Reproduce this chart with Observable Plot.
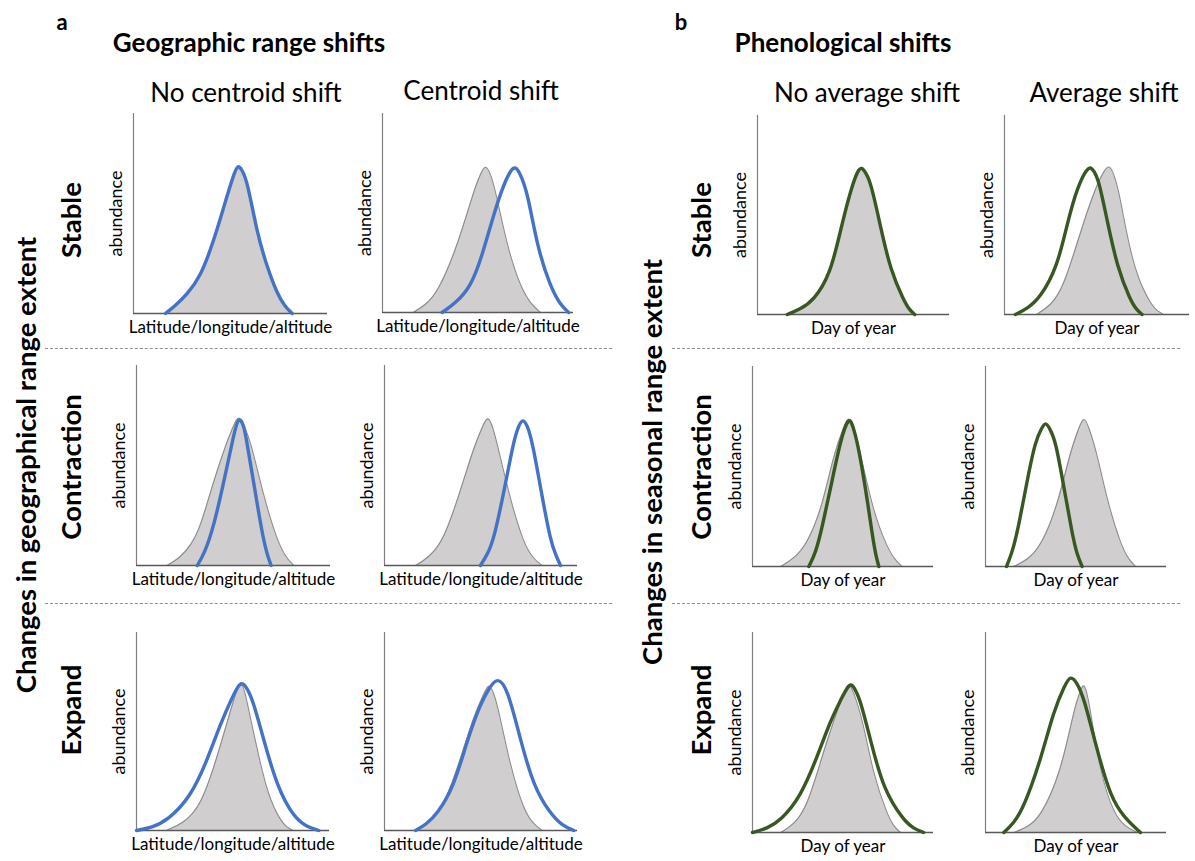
<!DOCTYPE html>
<html><head><meta charset="utf-8">
<script src="https://cdn.jsdelivr.net/npm/d3@7"></script>
<script src="https://cdn.jsdelivr.net/npm/@observablehq/plot@0.6"></script>
<style>
body{margin:0;background:#fff;}
#fig{position:relative;width:1195px;height:861px;font-family:Lato,"Open Sans",sans-serif;color:#000;overflow:hidden;background:#fff}
.t{position:absolute;white-space:nowrap;transform:translate(-50%,-50%);line-height:1}
.r{transform:translate(-50%,-50%) rotate(-90deg);}
.b{font-weight:700}
.dash{position:absolute;height:0;border-top:1.2px dashed #8f8f8f}
</style></head><body><div id="fig"></div>
<script>
// ---- text ----
const panelLetters = ["a", "b"];
const sectionTitles = ["Geographic range shifts", "Phenological shifts"];
const columnTitles = ["No centroid shift", "Centroid shift", "No average shift", "Average shift"];
const rowLabels = ["Stable", "Contraction", "Expand"];
const sideTitles = ["Changes in geographical range extent", "Changes in seasonal range extent"];
const xLabels = ["Latitude/longitude/altitude", "Day of year"];
const yLabel = "abundance";

// ---- curves (x: position along gradient 0-100, y: abundance 0-100) ----
// Geographic, no centroid shift
const aNoStableGrayX = [16.5,21.6,27.7,34.5,41.4,46.5,51.7,53.8,55.8,58.6,63.8,68.9,74.1,78,81.8];
const aNoStableGrayY = [0,4,9.8,18.2,36.5,53.2,69.8,74.5,72,66.5,39.8,23.2,9.8,3.5,0];
const aNoStableNewX  = [16.5,21.6,27.7,34.5,41.4,46.5,51.7,53.8,55.8,58.6,63.8,68.9,74.1,78,81.8];
const aNoStableNewY  = [0,4,9.8,18.2,36.5,53.2,69.8,74.5,72,66.5,39.8,23.2,9.8,3.5,0];
const aNoContrGrayX = [15.8,22,28,33,39.8,46.8,50.5,52.7,55,58.8,65.6,72.5,77,81.1];
const aNoContrGrayY = [0,3.5,10,19.2,42.5,62.5,71,75,71,62.5,34.2,12.5,4,0];
const aNoContrNewX  = [31.3,35,39.8,45.9,50.2,52.7,55.2,56.2,60.5,64.8,67.3,69.4];
const aNoContrNewY  = [0,6,19.2,45.8,65.8,75,70,65.8,40.8,15.8,5.5,0];
const aNoExpGrayX = [15.5,24,33.2,41.8,48.7,52,53.9,56,58.2,63.4,68.5,74.6,78,81.2];
const aNoExpGrayY = [0,3.5,11.8,37,60.6,71,75.5,71,60.6,37,16.8,5,1.5,0];
const aNoExpNewX  = [0,8,15.9,28,36.6,43.5,49.6,53.9,56.5,59.9,66,72.9,81.5,88,94.5];
const aNoExpNewY  = [0,1.5,5,16.8,35.4,53.9,67.3,75.5,73,67.3,45.5,21.9,6.7,2,0];
// Geographic, centroid shift
const aShStableGrayX = [16.1,22,28.6,39.1,47.8,51.5,53.9,56.5,59.2,65.3,72.3,77.5,82.7];
const aShStableGrayY = [0,3.5,9.4,32.8,61.3,70,74.5,70,61.3,32.8,12.7,4.5,0];
const aShStableNewX  = [31.2,38,46.1,52,58.3,63.5,68.7,71.5,75.8,81,88,93,97.5];
const aShStableNewY  = [0,4.5,12.7,28,49.6,64.7,74.5,71,61.3,32.8,12.7,4,0];
const aShContrGrayX = [16.1,23,30.7,39.4,46.3,51,53.5,56,59.2,65.3,72.2,77,81.7];
const aShContrGrayY = [0,4,12.5,37.5,59.2,70,75,70,57.5,32.5,10.8,3.5,0];
const aShContrNewX  = [49.7,53,56.6,62.7,67,69.5,71.7,74,76.5,81.7,86,88.8,91.2];
const aShContrNewY  = [0,5,12.5,40.8,62.5,70,73.5,70,62.5,34.2,12.5,5,0];
const aShExpGrayX = [16.1,23,30.7,39.4,46.3,51.5,54,56.5,59.2,65.3,72.2,77,81.7];
const aShExpGrayY = [0,4,12,36,58,69,74.5,70,60.6,32,10.1,3.5,0];
const aShExpNewX  = [16.1,21.5,27.3,35.9,42.8,49.7,54,58.4,63.6,70.5,77.4,86,92,98.1];
const aShExpNewY  = [0,3,8.4,21.9,45.5,64,71.6,77.5,72.4,45.5,21.9,8.4,2.5,0];
// Phenological, no average shift
const bNoStableGrayX = [15.5,22,29.3,38,43.2,48.4,53.1,55.5,58.9,64.1,69.3,76.2,79,81.9];
const bNoStableGrayY = [0,2.5,7,20.4,42.2,62.3,75,72.5,67.3,43.9,22.1,7,2.5,0];
const bNoStableNewX  = [15.5,22,29.3,38,43.2,48.4,53.1,55.5,58.9,64.1,69.3,76.2,79,81.9];
const bNoStableNewY  = [0,2.5,7,20.4,42.2,62.3,75,72.5,67.3,43.9,22.1,7,2.5,0];
const bNoContrGrayX = [15.5,23,30.2,38.5,44.9,50.5,53.2,56,59.7,67,74.4,78.5,82.7];
const bNoContrGrayY = [0,4,11.3,29.7,56.3,70,75.5,70,56.3,26.3,9.7,3.5,0];
const bNoContrNewX  = [31.1,35,38.5,44,48.6,53.2,55.5,57.8,62.4,66.1,68,69.8];
const bNoContrNewY  = [0,7,19.7,43,63,75.5,70,63,39.7,16.3,6,0];
const bNoExpGrayX = [15.5,23,30.2,39.4,46.8,51,53.2,55.5,60.6,67,74.4,78,81.8];
const bNoExpGrayY = [0,4,12.7,41,61,71,75,71,57.7,27.7,9.3,3,0];
const bNoExpNewX  = [0,8,15.5,26.5,35.7,43.1,48.6,53.8,56.5,59.7,65.2,72.5,83.6,89,94.6];
const bNoExpNewY  = [0,2,6,17.7,37.7,56,66,75.5,72,66,46,21,6,2,0];
// Phenological, average shift
const bShStableGrayX = [17.3,25,32.1,42.9,50.1,53.5,56.4,59,61.8,66.3,71.7,78.9,82.5,86.1];
const bShStableGrayY = [0,4.5,13.7,47.2,65.7,71.5,75.5,71,62.3,38.8,18.7,5.4,1.8,0];
const bShStableNewX  = [5.9,12.5,19.5,28.5,33.9,39.3,45.6,48.5,51,55.5,60.9,68.1,71.3,74.4];
const bShStableNewY  = [0,3,8.7,23.8,45.6,64,75.5,72,67.3,47.2,23.8,7,2.5,0];
const bShContrGrayX = [15.6,23,30.4,39.6,47,51.5,54.3,57,61.7,67.2,74.6,78.8,82.9];
const bShContrGrayY = [0,3.2,9.7,29.7,58,69,75.5,70,56.3,33,11.3,3.8,0];
const bShContrNewX  = [11.6,14.3,17.5,23,27.6,31,33.1,35.5,38.7,43.3,47.9,50.5,53.4];
const bShContrNewY  = [0,6,16.3,43,63,69,72.5,69,63,39.7,16.3,6,0];
const bShExpGrayX = [15.6,23,30.4,41.4,48.8,52,54.3,56,58,63.5,70.9,77,83.8];
const bShExpGrayY = [0,2.5,7.7,29.3,61,70,75,70,61,29.3,9.3,3,0];
const bShExpNewX  = [10.1,15.5,21.2,30.4,37.7,44,47,50.5,54.3,61.7,69.1,76.4,85.6];
const bShExpNewY  = [0,4.5,12.7,36,61,74,78.5,75,67.7,41,17.7,7.7,0];

const BLUE = "#4472c4", GREEN = "#385723";
const fig = document.getElementById("fig");
const FONT = "Lato, 'Open Sans', sans-serif";

function label(text, x, y, size, bold, rot) {
  const d = document.createElement("div");
  d.className = "t" + (rot ? " r" : "") + (bold ? " b" : "");
  d.textContent = text;
  d.style.left = x + "px"; d.style.top = y + "px"; d.style.fontSize = size + "px";
  fig.appendChild(d);
}
function dash(x1, x2, y) {
  const d = document.createElement("div");
  d.className = "dash";
  d.style.left = x1 + "px"; d.style.width = (x2 - x1) + "px"; d.style.top = y + "px";
  fig.appendChild(d);
}
const zip = (xs, ys) => xs.map((x, i) => ({x, y: ys[i]}));

function panel(x0, y0, w, h, gx, gy, nx, ny, color, xlabel) {
  const ml = 34, mr = 26, mt = 4, mb = 34;
  const gray = zip(gx, gy), cur = zip(nx, ny);
  const svg = Plot.plot({
    width: w + ml + mr, height: h + mt + mb,
    marginLeft: ml, marginRight: mr, marginTop: mt, marginBottom: mb,
    x: {domain: [0, 100], axis: null},
    y: {domain: [0, 100], axis: null},
    style: {background: "transparent", fontFamily: FONT, overflow: "visible"},
    marks: [
      Plot.areaY(gray, {x: "x", y: "y", curve: "basis", fill: "#d0cece"}),
      Plot.line(gray, {x: "x", y: "y", curve: "basis", stroke: "#8c8c8c", strokeWidth: 1.1}),
      Plot.ruleX([0], {stroke: "#808080", strokeWidth: 1.2}),
      Plot.ruleY([0], {stroke: "#595959", strokeWidth: 1.3}),
      Plot.line(cur, {x: "x", y: "y", curve: "basis", stroke: color, strokeWidth: 3.4, strokeLinecap: "round", strokeLinejoin: "round"}),
      Plot.text([yLabel], {text: d => d, frameAnchor: "left", textAnchor: "middle", dx: -17, rotate: -90, fontSize: 18, fill: "#000"}),
      Plot.text([xlabel], {text: d => d, frameAnchor: "bottom", textAnchor: "middle", dy: 19, fontSize: 17, fill: "#000"})
    ]
  });
  svg.style.position = "absolute";
  svg.style.left = (x0 - ml) + "px";
  svg.style.top = (y0 - mt) + "px";
  fig.appendChild(svg);
}

// headings
label(panelLetters[0], 62, 22, 22, true);
label(panelLetters[1], 681, 22, 22, true);
label(sectionTitles[0], 249, 42, 26, true);
label(sectionTitles[1], 843, 42, 26, true);
label(columnTitles[0], 246, 92, 26);
label(columnTitles[1], 481, 90, 26);
label(columnTitles[2], 867, 92, 26);
label(columnTitles[3], 1104, 92, 26);
label(sideTitles[0], 26, 465, 27.5, true, true);
label(sideTitles[1], 652, 462, 27.5, true, true);
const rowY = [220, 467, 710];
rowLabels.forEach((r, i) => { label(r, 71, rowY[i], 27.5, true, true); label(r, 701, rowY[i], 27.5, true, true); });

dash(45, 612, 348); dash(672, 1180, 348);
dash(45, 612, 603); dash(672, 1180, 603);

// panels: row Stable
panel(133, 113, 194, 200, aNoStableGrayX, aNoStableGrayY, aNoStableNewX, aNoStableNewY, BLUE, xLabels[0]);
panel(382, 113, 191, 199, aShStableGrayX, aShStableGrayY, aShStableNewX, aShStableNewY, BLUE, xLabels[0]);
panel(757, 115, 192, 199, bNoStableGrayX, bNoStableGrayY, bNoStableNewX, bNoStableNewY, GREEN, xLabels[1]);
panel(1004, 115, 185, 199, bShStableGrayX, bShStableGrayY, bShStableNewX, bShStableNewY, GREEN, xLabels[1]);
// row Contraction
panel(136, 365, 194, 200, aNoContrGrayX, aNoContrGrayY, aNoContrNewX, aNoContrNewY, BLUE, xLabels[0]);
panel(384, 365, 193, 200, aShContrGrayX, aShContrGrayY, aShContrNewX, aShContrNewY, BLUE, xLabels[0]);
panel(752, 366, 181, 200, bNoContrGrayX, bNoContrGrayY, bNoContrNewX, bNoContrNewY, GREEN, xLabels[1]);
panel(985, 366, 181, 200, bShContrGrayX, bShContrGrayY, bShContrNewX, bShContrNewY, GREEN, xLabels[1]);
// row Expand
panel(136, 632, 193, 198, aNoExpGrayX, aNoExpGrayY, aNoExpNewX, aNoExpNewY, BLUE, xLabels[0]);
panel(384, 632, 193, 198, aShExpGrayX, aShExpGrayY, aShExpNewX, aShExpNewY, BLUE, xLabels[0]);
panel(752, 632, 181, 200, bNoExpGrayX, bNoExpGrayY, bNoExpNewX, bNoExpNewY, GREEN, xLabels[1]);
panel(985, 632, 181, 200, bShExpGrayX, bShExpGrayY, bShExpNewX, bShExpNewY, GREEN, xLabels[1]);
</script></body></html>
